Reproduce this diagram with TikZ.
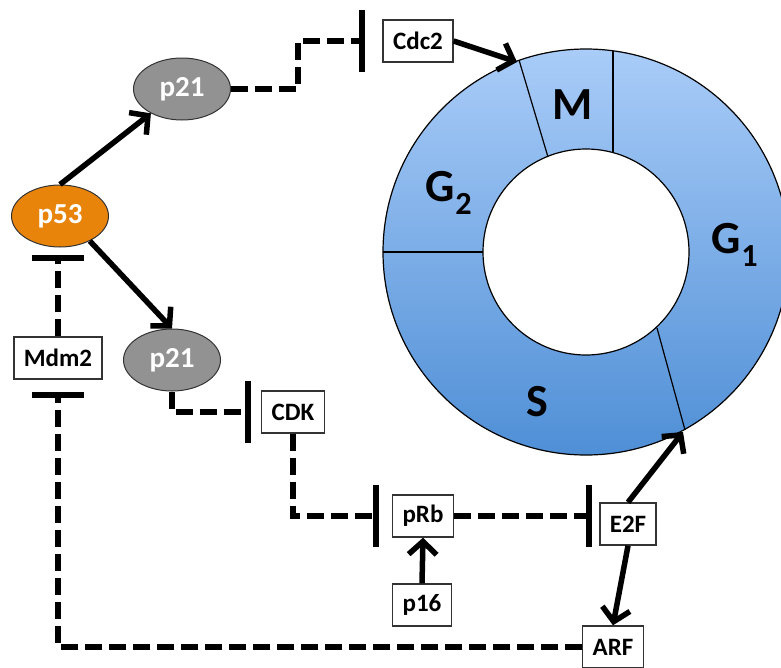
\documentclass[tikz,border=0pt]{standalone}
\usepackage{fontspec}
\setmainfont{Carlito}
\usepackage{tikz}
\usetikzlibrary{arrows.meta}
\usetikzlibrary{shapes.geometric}
\definecolor{orangep}{RGB}{232,132,10}
\definecolor{grisp}{RGB}{146,146,146}
\definecolor{bleuclair}{RGB}{169,204,248}
\definecolor{bleufonce}{RGB}{79,143,214}

\begin{document}
\begin{tikzpicture}[x=1pt,y=-1pt]
	% STYLES
	\tikzstyle{proteine} = [ellipse, draw=black!80, line width=1pt, minimum width=97pt, minimum height=62pt, inner sep=0pt, text=white, font=\fontsize{29}{30}\selectfont\bfseries]
	\tikzstyle{boite} = [rectangle, draw=black!80, line width=1.4pt, fill=white, minimum height=42pt, inner xsep=10pt, inner ysep=0pt, font=\fontsize{25}{26}\selectfont\bfseries]
	\tikzstyle{phase} = [font=\fontsize{46}{48}\selectfont\bfseries]
	\tikzstyle{bord} = [line width=1.2pt, draw=black]

	\tikzstyle{active} = [line width=5.5pt, draw=black, -{Straight Barb[length=13pt,width=28pt]}]
	\tikzstyle{inhibe} = [line width=6pt, draw=black, dash pattern=on 17pt off 7pt, -{Bar[width=62pt]}]

	\useasboundingbox (0,0) rectangle (781,667);

	% CYCLE
	\coordinate (C) at (586,252);
	\shade[top color=bleuclair, bottom color=bleufonce] (C) circle (203);
	\draw[bord] (C) circle (203);
	\filldraw[bord, fill=white] (C) circle (103);
	\path[bord] (613,51) -- (613,152);
	\path[bord] (519,60) -- (548,157);
	\path[bord] (383,252) -- (483,252);
	\path[bord] (657,328) -- (685,430);

	\node[phase] at (573,105) {M};
	\node[phase] at (449,193) {G\textsubscript{2}};
	\node[phase] at (735,245) {G\textsubscript{1}};
	\node[phase] at (537,402) {S};

	\coordinate (entreeM) at (517,62);
	\coordinate (entreeS) at (683,432);

	% NOEUDS
	\node[proteine, fill=orangep] (p53) at (60,216) {p53};
	\node[proteine, fill=grisp] (p21h) at (182,89) {p21};
	\node[proteine, fill=grisp] (p21b) at (172,360) {p21};

	\node[boite] (mdm2) at (58,358) {Mdm2};
	\node[boite] (cdk) at (293,412) {CDK};
	\node[boite] (cdc2) at (418,41) {Cdc2};
	\node[boite] (prb) at (423,516) {pRb};
	\node[boite] (e2f) at (628,524) {E2F};
	\node[boite] (p16) at (422,605) {p16};
	\node[boite] (arf) at (613,647) {ARF};

	% ACTIVATIONS
	\path[active] (p53.north) -- (p21h);
	\path[active] (p53.-40) -- (p21b.north);
	\path[active] (cdc2.east) -- (entreeM);
	\path[active] (e2f.north) -- (entreeS);
	\path[active] (e2f.south) -- (arf.north);
	\path[active] (p16.north) -- (prb.south);

	% INHIBITIONS
	\path[inhibe, shorten >=17pt] (p21h.east) -- ++(67,0) |- (cdc2.west);
	\path[inhibe, shorten >=10pt] (p21b.south) |- (cdk.west);
	\path[inhibe, shorten >=13pt] (cdk.south) |- (prb.west);
	\path[inhibe, shorten >=7pt] (prb.east) -- (prb.east -| e2f.west);
	\path[inhibe, shorten >=12pt, -{Bar[width=52pt]}] (arf.west) -| (mdm2.south);
	\path[inhibe, shorten >=7pt, -{Bar[width=52pt]}] (mdm2.north) -- (mdm2.north |- p53.south);
\end{tikzpicture}
\end{document}
